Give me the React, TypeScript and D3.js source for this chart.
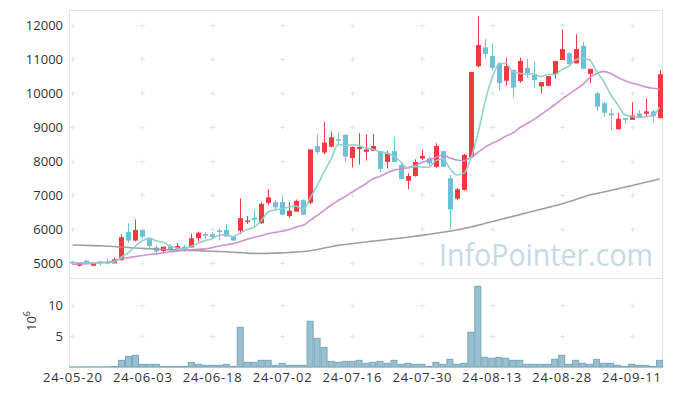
import React, { useEffect, useRef } from 'react';
import * as d3 from 'd3';

// trading days (YY-MM-DD)
const dates: string[] = [
  '24-05-20', '24-05-21', '24-05-22', '24-05-23', '24-05-24', '24-05-27', '24-05-28', '24-05-29', '24-05-30', '24-05-31',
  '24-06-03', '24-06-04', '24-06-05', '24-06-07', '24-06-10', '24-06-11', '24-06-12', '24-06-13', '24-06-14', '24-06-17',
  '24-06-18', '24-06-19', '24-06-20', '24-06-21', '24-06-24', '24-06-25', '24-06-26', '24-06-27', '24-06-28', '24-07-01',
  '24-07-02', '24-07-03', '24-07-04', '24-07-05', '24-07-08', '24-07-09', '24-07-10', '24-07-11', '24-07-12', '24-07-15',
  '24-07-16', '24-07-17', '24-07-18', '24-07-19', '24-07-22', '24-07-23', '24-07-24', '24-07-25', '24-07-26', '24-07-29',
  '24-07-30', '24-07-31', '24-08-01', '24-08-02', '24-08-05', '24-08-06', '24-08-07', '24-08-08', '24-08-09', '24-08-12',
  '24-08-13', '24-08-14', '24-08-16', '24-08-19', '24-08-20', '24-08-21', '24-08-22', '24-08-23', '24-08-26', '24-08-27',
  '24-08-28', '24-08-29', '24-08-30', '24-09-02', '24-09-03', '24-09-04', '24-09-05', '24-09-06', '24-09-09', '24-09-10',
  '24-09-11', '24-09-12', '24-09-13', '24-09-19', '24-09-20',
];

const opens: number[] = [
  5040, 4920, 5070, 4920, 5050, 5030, 4990, 5090, 5910, 5660,
  5970, 5720, 5460, 5350, 5500, 5430, 5480, 5460, 5730, 5850,
  5850, 5960, 5970, 5780, 5950, 6210, 6330, 6170, 6770, 6790,
  6790, 6380, 6510, 6850, 6770, 8440, 8250, 8420, 8640, 8770,
  8090, 8350, 8270, 8300, 8290, 7970, 8290, 7880, 7420, 7560,
  8070, 8080, 7830, 8290, 7490, 6890, 7150, 8110, 10790, 11340,
  11090, 10870, 10360, 10680, 10350, 10740, 10530, 10190, 10210, 10550,
  10970, 11170, 10870, 11380, 10560, 9990, 9700, 9400, 8930, 9260,
  9210, 9400, 9390, 9460, 9260,
];
const highs: number[] = [
  5060, 5020, 5100, 5030, 5070, 5110, 5160, 5850, 6170, 6280,
  5970, 5720, 5520, 5480, 5560, 5580, 5530, 5870, 5920, 5910,
  5910, 6010, 6150, 5780, 6900, 6380, 6580, 6790, 7170, 6850,
  6950, 6790, 6870, 6870, 8340, 8790, 9150, 8870, 8830, 8790,
  8430, 8820, 8780, 8790, 8290, 8300, 8700, 7950, 7640, 8050,
  8340, 8130, 8520, 8290, 7590, 7200, 8210, 10620, 12260, 11590,
  11460, 10910, 11040, 10680, 11040, 11010, 10920, 10320, 10500, 10940,
  11870, 11190, 11730, 11500, 10710, 10040, 9740, 9540, 9420, 9260,
  9730, 9500, 9840, 9500, 10680,
];
const lows: number[] = [
  4970, 4900, 4990, 4910, 4930, 4960, 4990, 5070, 5600, 5640,
  5720, 5430, 5280, 5310, 5330, 5400, 5330, 5460, 5630, 5720,
  5700, 5660, 5780, 5660, 5850, 6150, 6090, 6150, 6710, 6560,
  6420, 6340, 6510, 6420, 6730, 8210, 8200, 8400, 8480, 7980,
  7810, 7900, 8010, 8300, 7660, 7780, 7970, 7470, 7170, 7540,
  8030, 7850, 7800, 7830, 5990, 6850, 7130, 8110, 10750, 11020,
  10660, 10070, 10210, 9870, 10300, 10440, 10170, 9990, 10210, 10420,
  10970, 10810, 10870, 10710, 10300, 9470, 9300, 8910, 8930, 9110,
  9210, 9260, 9280, 9140, 9260,
];
const closes: number[] = [
  5000, 5010, 5000, 5020, 5010, 5000, 5110, 5760, 5660, 5970,
  5770, 5500, 5340, 5480, 5380, 5500, 5400, 5730, 5890, 5800,
  5760, 5910, 5780, 5660, 6320, 6250, 6270, 6740, 6930, 6640,
  6420, 6540, 6830, 6420, 8340, 8270, 8540, 8700, 8600, 8130,
  8410, 8410, 8340, 8440, 7770, 8210, 7970, 7470, 7560, 7970,
  8150, 7930, 8440, 7830, 6580, 7170, 8180, 10620, 11410, 11150,
  10740, 10290, 10790, 10160, 10940, 10580, 10380, 10320, 10500, 10940,
  11290, 10850, 11290, 10710, 10710, 9600, 9420, 9340, 9240, 9210,
  9340, 9280, 9460, 9320, 10550,
];

// volume, millions of shares
const volumes: number[] = [
  0.02, 0.03, 0.02, 0.03, 0.02, 0.03, 0.1, 1.07, 1.72, 1.88,
  0.43, 0.43, 0.43, 0.1, 0.1, 0.1, 0.1, 0.75, 0.43, 0.27,
  0.27, 0.27, 0.43, 0.1, 6.4, 0.75, 0.75, 1.07, 1.07, 0.27,
  0.6, 0.27, 0.27, 0.27, 7.37, 4.62, 3.17, 0.91, 0.75, 0.91,
  0.91, 1.07, 0.6, 0.75, 0.91, 0.6, 1.07, 0.43, 0.6, 0.43,
  0.43, 0.1, 0.75, 0.43, 1.24, 0.43, 0.6, 5.6, 13.0, 1.56,
  1.4, 1.56, 1.4, 1.07, 1.07, 0.43, 0.43, 0.43, 0.43, 1.24,
  1.88, 0.43, 1.07, 0.6, 0.43, 1.24, 0.6, 0.6, 0.27, 0.1,
  0.43, 0.27, 0.27, 0.1, 1.07,
];

const ma5: number[] = [
  5010, 5010, 5005, 5010, 5010, 5008, 5028, 5180, 5308, 5500,
  5654, 5732, 5648, 5612, 5494, 5440, 5420, 5497, 5579, 5663,
  5715, 5817, 5828, 5782, 5886, 5983, 6054, 6245, 6499, 6563,
  6598, 6653, 6672, 6570, 6910, 7279, 7679, 8053, 8489, 8447,
  8476, 8450, 8378, 8348, 8273, 8232, 8144, 7970, 7794, 7835,
  7824, 7816, 8010, 8064, 7786, 7589, 7638, 8074, 8790, 9704,
  10418, 10840, 10875, 10624, 10582, 10551, 10570, 10476, 10545, 10545,
  10688, 10783, 10977, 11018, 10971, 10632, 10345, 9955, 9661, 9361,
  9310, 9283, 9306, 9324, 9593,
];
const ma20: number[] = [
  4960, 4970, 4980, 4990, 5010, 5030, 5070, 5130, 5160, 5190,
  5220, 5250, 5270, 5300, 5330, 5350, 5370, 5390, 5405, 5416,
  5454, 5499, 5538, 5570, 5636, 5698, 5756, 5805, 5868, 5902,
  5934, 5986, 6061, 6108, 6256, 6394, 6551, 6700, 6835, 6952,
  7084, 7209, 7337, 7476, 7548, 7646, 7732, 7768, 7800, 7866,
  7953, 8022, 8103, 8173, 8085, 8030, 8012, 8108, 8249, 8400,
  8516, 8610, 8732, 8818, 8977, 9096, 9216, 9359, 9506, 9654,
  9812, 9958, 10101, 10244, 10451, 10572, 10635, 10571, 10462, 10365,
  10295, 10245, 10179, 10137, 10118,
];
const ma60: number[] = [
  5530, 5525, 5520, 5512, 5505, 5495, 5485, 5470, 5455, 5440,
  5430, 5420, 5410, 5400, 5392, 5385, 5378, 5370, 5362, 5355,
  5348, 5340, 5330, 5318, 5305, 5292, 5284, 5282, 5285, 5292,
  5300, 5310, 5325, 5340, 5363, 5400, 5440, 5480, 5520, 5545,
  5570, 5597, 5620, 5645, 5665, 5690, 5712, 5735, 5760, 5788,
  5814, 5845, 5876, 5906, 5938, 5971, 6015, 6060, 6110, 6160,
  6216, 6268, 6320, 6372, 6424, 6476, 6528, 6580, 6632, 6684,
  6735, 6800, 6866, 6932, 7000, 7045, 7090, 7135, 7180, 7226,
  7275, 7324, 7373, 7422, 7471,
];

const priceTicks: number[] = [5000, 6000, 7000, 8000, 9000, 10000, 11000, 12000];
const volumeTicks: number[] = [5, 10];
const xTickLabels: string[] = [
  '24-05-20', '24-06-03', '24-06-18', '24-07-02', '24-07-16',
  '24-07-30', '24-08-13', '24-08-28', '24-09-11',
];

const UP = '#ef3a3f';
const DOWN = '#6cc1d8';
const FONT = '"Open Sans", sans-serif';

const App: React.FC = () => {
  const ref = useRef<SVGSVGElement | null>(null);

  useEffect(() => {
    if (!ref.current) return;
    const svg = d3.select(ref.current);
    svg.selectAll('*').remove();

    const left = 69;
    const right = 663;
    const top = 10;
    const mid = 278;
    const bottom = 367;

    const x = d3.scaleBand<string>().domain(dates).range([left, right]);
    const cx = (i: number) => (x(dates[i]) || 0) + x.bandwidth() / 2;
    const y = d3.scaleLinear().domain([4560, 12440]).range([mid, top]);
    const yv = d3.scaleLinear().domain([0, 14.35]).range([bottom, mid]);

    // frame
    const frame = svg.append('g').attr('stroke', '#e3e3e3').attr('fill', 'none');
    frame.append('rect').attr('x', left + 0.5).attr('y', top + 0.5)
      .attr('width', right - left - 1).attr('height', bottom - top);
    frame.append('line').attr('x1', left).attr('x2', right)
      .attr('y1', mid + 0.5).attr('y2', mid + 0.5);

    // grid crosses
    const tickIdx = xTickLabels.map((d) => dates.indexOf(d));
    const cross = svg.append('g').attr('stroke', '#e6e6e6').attr('stroke-width', 1);
    const ys = [...priceTicks.map((p) => y(p)), ...volumeTicks.map((v) => yv(v))];
    tickIdx.forEach((i) => {
      ys.forEach((yy) => {
        const xx = Math.round(cx(i)) + 0.5;
        const y0 = Math.round(yy) + 0.5;
        cross.append('line').attr('x1', xx - 2.5).attr('x2', xx + 2.5).attr('y1', y0).attr('y2', y0);
        cross.append('line').attr('x1', xx).attr('x2', xx).attr('y1', y0 - 2.5).attr('y2', y0 + 2.5);
      });
    });

    // watermark
    svg.append('text')
      .attr('x', 439).attr('y', 266)
      .attr('font-family', FONT).attr('font-size', 31)
      .attr('textLength', 214).attr('lengthAdjust', 'spacingAndGlyphs')
      .attr('fill', '#c6d9e5')
      .text('InfoPointer.com');

    // candles
    const candles = svg.append('g');
    dates.forEach((_, i) => {
      const color = closes[i] >= opens[i] ? UP : DOWN;
      const xc = Math.round(cx(i));
      candles.append('line')
        .attr('x1', xc + 0.5).attr('x2', xc + 0.5)
        .attr('y1', y(highs[i])).attr('y2', y(lows[i]))
        .attr('stroke', color).attr('stroke-width', 1);
      const y1 = y(Math.max(opens[i], closes[i]));
      const y2 = y(Math.min(opens[i], closes[i]));
      candles.append('rect')
        .attr('x', xc - 2).attr('width', 5)
        .attr('y', y1).attr('height', Math.max(1.5, y2 - y1))
        .attr('fill', color);
    });

    // moving averages
    const line = d3.line<number>()
      .x((_, i) => cx(i))
      .y((d) => y(d))
      .curve(d3.curveMonotoneX);
    const mas: [number[], string][] = [
      [ma60, '#9a9a9a'],
      [ma20, '#cc8dcc'],
      [ma5, '#8ecfc6'],
    ];
    mas.forEach(([data, color]) => {
      svg.append('path').datum(data)
        .attr('d', line)
        .attr('fill', 'none')
        .attr('stroke', color)
        .attr('stroke-width', 1.6)
        .attr('opacity', 0.95);
    });

    // volume bars
    svg.append('g').selectAll('rect').data(volumes).enter().append('rect')
      .attr('x', (_, i) => (x(dates[i]) || 0) + 0.5)
      .attr('width', x.bandwidth() - 1)
      .attr('y', (d) => yv(d))
      .attr('height', (d) => bottom - yv(d))
      .attr('fill', '#98c0d0')
      .attr('stroke', '#78a6ba')
      .attr('stroke-width', 1);

    // axis labels
    const labels = svg.append('g').attr('font-family', FONT).attr('font-size', 13).attr('fill', '#333');
    priceTicks.forEach((p) => {
      labels.append('text').attr('x', 63).attr('y', y(p)).attr('dy', '0.35em')
        .attr('text-anchor', 'end').text(String(p));
    });
    volumeTicks.forEach((v) => {
      labels.append('text').attr('x', 63).attr('y', yv(v)).attr('dy', '0.35em')
        .attr('text-anchor', 'end').text(String(v));
    });
    tickIdx.forEach((i, k) => {
      labels.append('text').attr('x', cx(i)).attr('y', 382)
        .attr('text-anchor', 'middle')
        .attr('textLength', 59).attr('lengthAdjust', 'spacing')
        .text(xTickLabels[k]);
    });

    const unit = labels.append('text')
      .attr('transform', 'translate(36,321) rotate(-90)')
      .attr('text-anchor', 'middle');
    unit.append('tspan').text('10');
    unit.append('tspan').attr('font-size', 9).attr('dy', -6).text('6');
  }, []);

  return (
    <svg
      ref={ref}
      width={673}
      height={396}
      style={{ position: 'absolute', left: 0, top: 0, background: '#fff' }}
    />
  );
};

export default App;
